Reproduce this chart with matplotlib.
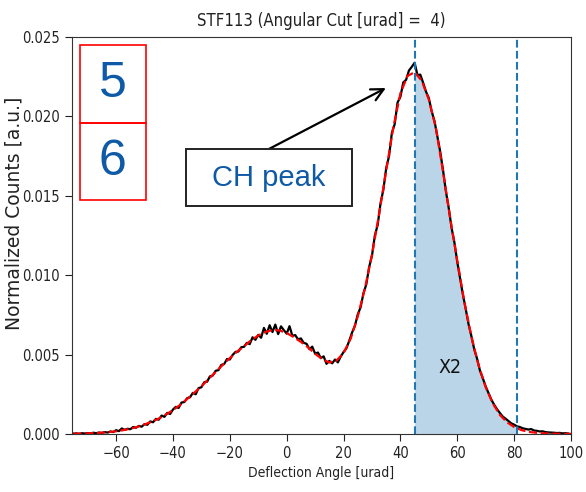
import matplotlib
matplotlib.use("Agg")
import matplotlib.pyplot as plt
import numpy as np
from matplotlib.patches import Rectangle

plt.rcParams["font.family"] = "DejaVu Sans"
plt.rcParams["font.stretch"] = "condensed"

angle = np.arange(-75, 100)
counts = [
    0.00002, 0.00004, 0.00001, 0.00005, 0.00003, 0.00006, 0.00004, 0.00008, 0.00005, 0.00009,
    0.00007, 0.00012, 0.00009, 0.00016, 0.00012, 0.00024, 0.00018, 0.00035, 0.00026, 0.00033,
    0.00030, 0.00044, 0.00039, 0.00051, 0.00046, 0.00062, 0.00058, 0.00079, 0.00074, 0.00095,
    0.00090, 0.00116, 0.00108, 0.00133, 0.00126, 0.00154, 0.00171, 0.00164, 0.00198, 0.00201,
    0.00226, 0.00231, 0.00259, 0.00250, 0.00289, 0.00294, 0.00326, 0.00329, 0.00363, 0.00368,
    0.00398, 0.00402, 0.00435, 0.00440, 0.00472, 0.00469, 0.00498, 0.00517, 0.00519, 0.00546,
    0.00549, 0.00574, 0.00566, 0.00609, 0.00593, 0.00624, 0.00606, 0.00668, 0.00631, 0.00685,
    0.00642, 0.00689, 0.00629, 0.00678, 0.00654, 0.00632, 0.00679, 0.00618, 0.00623, 0.00596,
    0.00602, 0.00574, 0.00568, 0.00534, 0.00550, 0.00506, 0.00513, 0.00478, 0.00489, 0.00442,
    0.00460, 0.00445, 0.00469, 0.00451, 0.00487, 0.00516, 0.00539, 0.00587, 0.00639, 0.00681,
    0.00753, 0.00798, 0.00886, 0.00942, 0.01051, 0.01123, 0.01249, 0.01316, 0.01452, 0.01538,
    0.01674, 0.01749, 0.01896, 0.01952, 0.02088, 0.02123, 0.02214, 0.02230, 0.02289, 0.02312,
    0.02338, 0.02260, 0.02263, 0.02212, 0.02156, 0.02115, 0.02032, 0.01970, 0.01874, 0.01778,
    0.01661, 0.01529, 0.01423, 0.01298, 0.01206, 0.01084, 0.00982, 0.00876, 0.00785, 0.00689,
    0.00614, 0.00531, 0.00472, 0.00398, 0.00350, 0.00299, 0.00258, 0.00216, 0.00184, 0.00156,
    0.00132, 0.00110, 0.00096, 0.00082, 0.00067, 0.00059, 0.00048, 0.00044, 0.00036, 0.00032,
    0.00028, 0.00031, 0.00022, 0.00020, 0.00016, 0.00017, 0.00012, 0.00010, 0.00009, 0.00008,
    0.00006, 0.00007, 0.00004, 0.00005, 0.00003,
]

# Fitted model (red dashed), sampled every 2.5 urad
fit_angle = np.arange(-75, 100.1, 2.5)
fit_counts = [
    0.00002, 0.00003, 0.00004, 0.00006, 0.00008, 0.00012, 0.00017, 0.00024, 0.00033, 0.00045,
    0.00060, 0.00077, 0.00097, 0.00122, 0.00150, 0.00183, 0.00220, 0.00260, 0.00300, 0.00345,
    0.00390, 0.00435, 0.00478, 0.00518, 0.00553, 0.00590, 0.00620, 0.00642, 0.00655, 0.00652,
    0.00636, 0.00610, 0.00580, 0.00546, 0.00505, 0.00472, 0.00450, 0.00462, 0.00510, 0.00600,
    0.00740, 0.00915, 0.01130, 0.01385, 0.01660, 0.01930, 0.02145, 0.02255, 0.02278, 0.02225,
    0.02105, 0.01925, 0.01650, 0.01360, 0.01090, 0.00830, 0.00610, 0.00432, 0.00295, 0.00192,
    0.00120, 0.00074, 0.00044, 0.00025, 0.00014, 0.00008, 0.00004, 0.00003, 0.00002, 0.00001,
    0.00001,
]

cut_lo, cut_hi = 45.3, 81.0
title = "STF113 (Angular Cut [urad] =  4)"
blue_txt = "#0f5aa6"

fig = plt.figure(figsize=(5.86, 4.92), dpi=100)
ax = fig.add_axes([0.1229, 0.1179, 0.8515, 0.8069])

counts = np.array(counts)
sel = (angle >= 45) & (angle <= cut_hi)
ax.fill_between(angle[sel], 0, counts[sel], color="C0", alpha=0.3, lw=0)
ax.plot(angle, counts, color="black", lw=1.6)
ax.plot(fit_angle, fit_counts, color="red", ls="--", lw=1.6)
ax.axvline(cut_lo, color="C0", ls="--", lw=1.5)
ax.axvline(cut_hi, color="C0", ls="--", lw=1.5)

ax.set_xlim(-75.5, 100)
ax.set_ylim(0, 0.025)
ax.set_xticks(np.arange(-60, 101, 20))
ax.set_yticks(np.arange(0, 0.0251, 0.005))
ax.yaxis.set_major_formatter(matplotlib.ticker.FormatStrFormatter("%.3f"))
ax.tick_params(labelsize=10.5, colors="#222222", length=5)
for s in ax.spines.values():
    s.set_color("#333333")

ax.set_title(title, fontsize=12, pad=8, color="#222222")
ax.set_xlabel("Deflection Angle [urad]", fontsize=10, color="#222222")
ax.set_ylabel("Normalized Counts [a.u.]", fontsize=13.5, color="#222222",
              fontstretch="normal")
ax.yaxis.set_label_coords(-0.098, 0.557)

ax.text(57.4, 0.0042, "X2", fontsize=14, ha="center", va="center", color="#111111")

# Red boxes with labels 5 / 6
for y0, y1, lab in [(0.783, 0.980, "5"), (0.589, 0.783, "6")]:
    ax.add_patch(Rectangle((0.016, y0), 0.132, y1 - y0, transform=ax.transAxes,
                           fill=False, edgecolor="red", lw=1.2))
    ax.text(0.082, (y0 + y1) / 2, lab, transform=ax.transAxes, ha="center", va="center",
            fontsize=36, color=blue_txt, family="Liberation Sans", fontstretch="normal")

# CH peak callout
ax.add_patch(Rectangle((0.2285, 0.574), 0.3325, 0.144, transform=ax.transAxes,
                       facecolor="white", edgecolor="#222222", lw=1.4, zorder=5))
ax.text(0.395, 0.646, "CH peak", transform=ax.transAxes, ha="center", va="center",
        fontsize=21, color=blue_txt, family="Liberation Sans", fontstretch="normal", zorder=6)
ax.annotate("", xy=(0.629, 0.8715), xytext=(0.3948, 0.718),
            xycoords="axes fraction", textcoords="axes fraction",
            arrowprops=dict(arrowstyle="->", color="black", lw=1.6, mutation_scale=22,
                            shrinkA=0, shrinkB=0))

fig.savefig("out.png", dpi=100)
